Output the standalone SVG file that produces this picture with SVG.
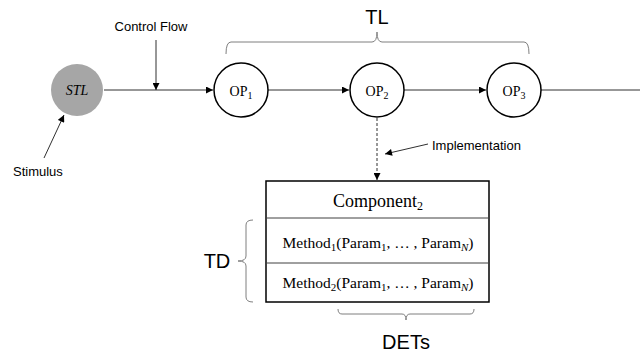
<svg xmlns="http://www.w3.org/2000/svg" width="640" height="354" viewBox="0 0 640 354">
<defs>
<marker id="ah" viewBox="0 0 10 10" refX="10" refY="5" markerWidth="8" markerHeight="7" markerUnits="userSpaceOnUse" orient="auto">
<path d="M0,0 L10,5 L0,10 Z" fill="#000"/>
</marker>
</defs>
<style>
.lbl{font-family:"Liberation Sans",Arial,sans-serif;font-size:13px;fill:#000}
.big{font-family:"Liberation Sans",Arial,sans-serif;font-size:20px;fill:#000}
.math{font-family:"Liberation Serif","Times New Roman",serif;fill:#000}
.node{fill:#fff;stroke:#000;stroke-width:1.5}
.edge{stroke:#303030;stroke-width:1;fill:none}
.brace{stroke:#7f7f7f;stroke-width:1;fill:none}
</style>
<rect width="640" height="354" fill="#fff"/>
<g id="connectors">
<line class="edge" x1="104" y1="90" x2="213" y2="90" marker-end="url(#ah)"/>
<line class="edge" x1="156" y1="40" x2="156" y2="90" marker-end="url(#ah)"/>
<line class="edge" x1="268" y1="90" x2="349" y2="90" marker-end="url(#ah)"/>
<line class="edge" x1="404" y1="90" x2="486" y2="90" marker-end="url(#ah)"/>
<line class="edge" x1="541" y1="90" x2="640" y2="90"/>
<line class="edge" x1="377" y1="118" x2="377" y2="180" stroke-dasharray="3,2" marker-end="url(#ah)"/>
<line class="edge" x1="428" y1="144" x2="385" y2="154" marker-end="url(#ah)"/>
<line class="edge" x1="44" y1="158" x2="64" y2="115" marker-end="url(#ah)"/>
</g>
<g id="labels">
<text class="lbl" x="151" y="31" text-anchor="middle">Control Flow</text>
<text class="lbl" x="13" y="176">Stimulus</text>
<text class="lbl" x="432" y="150">Implementation</text>
</g>
<g id="STL">
<circle cx="77" cy="90" r="26" fill="#a6a6a6"/>
<text class="math" x="77" y="95" text-anchor="middle" font-size="14" font-style="italic">STL</text>
</g>
<g id="OP1">
<circle class="node" cx="241" cy="90" r="27"/>
<text class="math" x="241" y="96" text-anchor="middle" font-size="14">OP<tspan font-size="10" dy="3">1</tspan></text>
</g>
<g id="OP2">
<circle class="node" cx="377" cy="90" r="27"/>
<text class="math" x="377" y="96" text-anchor="middle" font-size="14">OP<tspan font-size="10" dy="3">2</tspan></text>
</g>
<g id="OP3">
<circle class="node" cx="514" cy="90" r="27"/>
<text class="math" x="514" y="96" text-anchor="middle" font-size="14">OP<tspan font-size="10" dy="3">3</tspan></text>
</g>
<g id="TL">
<path class="brace" d="M226,54 Q226,42 231,42 L372,42 Q377,42 377,32 Q377,42 382,42 L524,42 Q529,42 529,54"/>
<text class="big" x="377" y="24" text-anchor="middle">TL</text>
</g>
<g id="Component2">
<rect x="266" y="181" width="223" height="121" fill="#fff" stroke="#000" stroke-width="1.5"/>
<line x1="266" y1="218" x2="489" y2="218" stroke="#404040" stroke-width="1"/>
<line x1="266" y1="263" x2="489" y2="263" stroke="#404040" stroke-width="1"/>
<text class="math" x="378" y="207" text-anchor="middle" font-size="18">Component<tspan font-size="12" dy="3">2</tspan></text>
<text class="math" x="378" y="248" text-anchor="middle" font-size="15.5">Method<tspan font-size="11" dy="3">1</tspan><tspan dy="-3">(Param</tspan><tspan font-size="11" dy="3">1</tspan><tspan dy="-3">, … , Param</tspan><tspan font-size="11" dy="3" font-style="italic">N</tspan><tspan dy="-3">)</tspan></text>
<text class="math" x="378" y="288" text-anchor="middle" font-size="15.5">Method<tspan font-size="11" dy="3">2</tspan><tspan dy="-3">(Param</tspan><tspan font-size="11" dy="3">1</tspan><tspan dy="-3">, … , Param</tspan><tspan font-size="11" dy="3" font-style="italic">N</tspan><tspan dy="-3">)</tspan></text>
</g>
<g id="TD">
<path class="brace" d="M253,220 Q246,220 246,225 L246,256 Q246,261 238,261 Q246,261 246,266 L246,297 Q246,302 253,302"/>
<text class="big" x="217" y="268" text-anchor="middle">TD</text>
</g>
<g id="DETs">
<path class="brace" d="M338,309 Q338,314 342,314 L402,314 Q406,314 406,320 Q406,314 410,314 L470,314 Q474,314 474,309"/>
<text class="big" x="406" y="349" text-anchor="middle">DETs</text>
</g>
</svg>
